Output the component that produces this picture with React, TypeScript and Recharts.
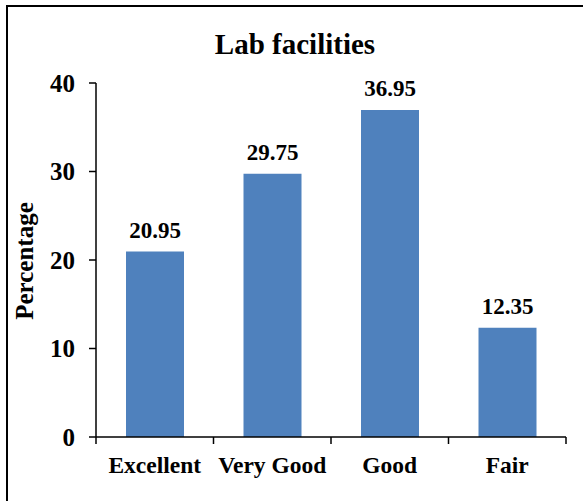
import { BarChart, Bar, XAxis, YAxis, LabelList } from 'recharts'

const categories = ['Excellent', 'Very Good', 'Good', 'Fair']
const percentages = [20.95, 29.75, 36.95, 12.35]
const yTicks = [0, 10, 20, 30, 40]

const data = categories.map((name, i) => ({ name, value: percentages[i] }))

const serif = '"Times New Roman", "Liberation Serif", serif'
const boldSerif = { fontFamily: serif, fontWeight: 'bold' as const }

function CategoryTick(props: any) {
  const { x, y, payload, index } = props
  const half = payload && payload.offset ? payload.offset : 58.75
  return (
    <g>
      <line x1={x - half} y1={y} x2={x - half} y2={y + 7} stroke="#000" strokeWidth={1.5} />
      {index === categories.length - 1 && (
        <line x1={x + half} y1={y} x2={x + half} y2={y + 7} stroke="#000" strokeWidth={1.5} />
      )}
      <text
        x={x}
        y={y + 36}
        textAnchor="middle"
        fill="#000"
        style={{ ...boldSerif, fontSize: 23.5 }}
      >
        {payload.value}
      </text>
    </g>
  )
}

export default function App() {
  return (
    <div
      style={{
        position: 'absolute',
        left: 0,
        top: 0,
        width: 583,
        height: 501,
        overflow: 'hidden',
        background: '#fff',
        fontFamily: serif,
      }}
    >
      <div
        style={{
          position: 'absolute',
          left: 6,
          top: 5,
          width: 640,
          height: 640,
          border: '2px solid #000',
        }}
      />
      <div
        style={{
          position: 'absolute',
          left: 0,
          top: 27,
          width: 590,
          textAlign: 'center',
          ...boldSerif,
          fontSize: 29,
          lineHeight: '34px',
        }}
      >
        Lab facilities
      </div>
      <div
        style={{
          position: 'absolute',
          left: 25,
          top: 261,
          transform: 'translate(-50%, -50%) rotate(-90deg)',
          ...boldSerif,
          fontSize: 25,
          whiteSpace: 'nowrap',
        }}
      >
        Percentage
      </div>
      <div style={{ position: 'absolute', left: 0, top: 0 }}>
        <BarChart
          width={583}
          height={501}
          data={data}
          margin={{ top: 83, right: 17, bottom: 24, left: 36 }}
          style={{ fontFamily: serif }}
        >
          <XAxis
            dataKey="name"
            height={40}
            axisLine={{ stroke: '#000', strokeWidth: 1.5 }}
            tickLine={false}
            tickSize={0}
            tickMargin={0}
            interval={0}
            tick={<CategoryTick />}
          />
          <YAxis
            width={60}
            domain={[0, 40]}
            ticks={yTicks}
            interval={0}
            axisLine={{ stroke: '#000', strokeWidth: 1.5 }}
            tickLine={{ stroke: '#000', strokeWidth: 1.5 }}
            tickSize={7}
            tickMargin={14}
            tick={{ fill: '#000', fontSize: 25, style: { ...boldSerif, fontSize: 25 } }}
          />
          <Bar dataKey="value" fill="#4F81BD" barSize={58} isAnimationActive={false}>
            <LabelList
              dataKey="value"
              position="top"
              offset={14}
              fill="#000"
              fontSize={23}
              style={{ ...boldSerif, fontSize: 23 }}
              formatter={(v: any) => Number(v).toFixed(2)}
            />
          </Bar>
        </BarChart>
      </div>
    </div>
  )
}
